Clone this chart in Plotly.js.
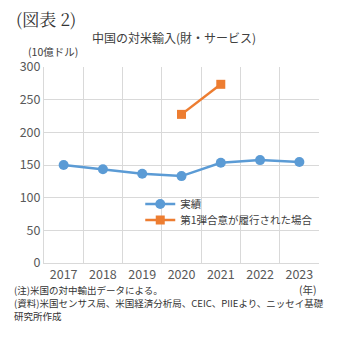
<!DOCTYPE html>
<html><head><meta charset="utf-8">
<script src="https://cdn.plot.ly/plotly-3.0.1.min.js"></script>
<style>html,body{margin:0;padding:0;background:#fff;}#c{width:338px;height:337px;}</style>
</head><body><div id="c"></div>
<script>
const years = [2017, 2018, 2019, 2020, 2021, 2022, 2023];
const actual = [150, 143.5, 136.5, 133, 153.5, 157.5, 154.5];
const phaseYears = [2020, 2021];
const phaseOne = [227.5, 273.5];
const seriesNames = ["実績", "第1弾合意が履行された場合"];
const yTicks = [0, 50, 100, 150, 200, 250, 300];

const F = "'Noto Sans CJK JP', 'Noto Sans', sans-serif";
const traces = [
  {x: years, y: actual, name: seriesNames[0], type: 'scatter', mode: 'lines+markers', legend: 'legend',
   line: {color: '#5B9BD5', width: 2.5}, marker: {symbol: 'circle', size: 10, color: '#5B9BD5'}},
  {x: phaseYears, y: phaseOne, name: seriesNames[1], type: 'scatter', mode: 'lines+markers', legend: 'legend2',
   line: {color: '#ED7D31', width: 2.5}, marker: {symbol: 'square', size: 9, color: '#ED7D31'}}
];
const legendBase = {x: 0.35, xanchor: 'left', yanchor: 'middle', bgcolor: 'rgba(0,0,0,0)',
    font: {size: 10.5, color: '#404040', family: F}, itemwidth: 30};
const layout = {
  width: 338, height: 337,
  margin: {l: 44, r: 19, t: 67, b: 74, autoexpand: false},
  paper_bgcolor: '#fff', plot_bgcolor: '#fff',
  font: {family: F, color: '#595959', size: 12},
  showlegend: true,
  legend: Object.assign({}, legendBase, {y: 0.301}),
  legend2: Object.assign({}, legendBase, {y: 0.219}),
  xaxis: {type: 'linear', range: [2016.5, 2023.5], tickvals: years, ticktext: years.map(String),
    showgrid: false, zeroline: false, showline: true, linecolor: '#d9d9d9', ticks: '',
    tickfont: {size: 12.5, color: '#595959', family: F},
    minor: {tick0: 2016.5, dtick: 1, showgrid: true, gridcolor: '#d9d9d9', gridwidth: 1, ticks: ''}},
  yaxis: {range: [0, 300], tickvals: yTicks, showgrid: true, gridcolor: '#d9d9d9', gridwidth: 1,
    zeroline: false, showline: true, linecolor: '#d9d9d9', ticks: '', ticklen: 0,
    tickfont: {size: 12.5, color: '#595959', family: F}},
  annotations: [
    {text: '(図表 2)', xref: 'paper', yref: 'paper', x: -0.11, y: 1.25, xanchor: 'left', yanchor: 'middle',
     showarrow: false, font: {family: "'Noto Serif CJK JP', 'DejaVu Serif', serif", size: 17, color: '#333'}},
    {text: '中国の対米輸入(財・サービス)', xref: 'paper', yref: 'paper', x: 0.473, y: 1.153, xanchor: 'center', yanchor: 'middle',
     showarrow: false, font: {family: F, size: 12, color: '#404040'}},
    {text: '(10億ドル)', xref: 'paper', yref: 'paper', x: -0.065, y: 1.077, xanchor: 'left', yanchor: 'middle',
     showarrow: false, font: {family: F, size: 10.5, color: '#404040'}},
    {text: '(年)', xref: 'paper', yref: 'paper', x: 1.0, y: -0.137, xanchor: 'right', yanchor: 'middle',
     showarrow: false, font: {family: F, size: 10.5, color: '#404040'}},
    {text: '(注)米国の対中輸出データによる。', xref: 'paper', yref: 'paper', x: -0.116, y: -0.138, xanchor: 'left', yanchor: 'middle',
     showarrow: false, font: {family: F, size: 9.5, color: '#333'}},
    {text: '(資料)米国センサス局、米国経済分析局、CEIC、PIIEより、ニッセイ基礎', xref: 'paper', yref: 'paper', x: -0.116, y: -0.206, xanchor: 'left', yanchor: 'middle',
     showarrow: false, font: {family: F, size: 9.5, color: '#333'}},
    {text: '研究所作成', xref: 'paper', yref: 'paper', x: -0.116, y: -0.270, xanchor: 'left', yanchor: 'middle',
     showarrow: false, font: {family: F, size: 9.5, color: '#333'}}
  ]
};
Plotly.newPlot('c', traces, layout, {displayModeBar: false, staticPlot: true});
</script></body></html>
